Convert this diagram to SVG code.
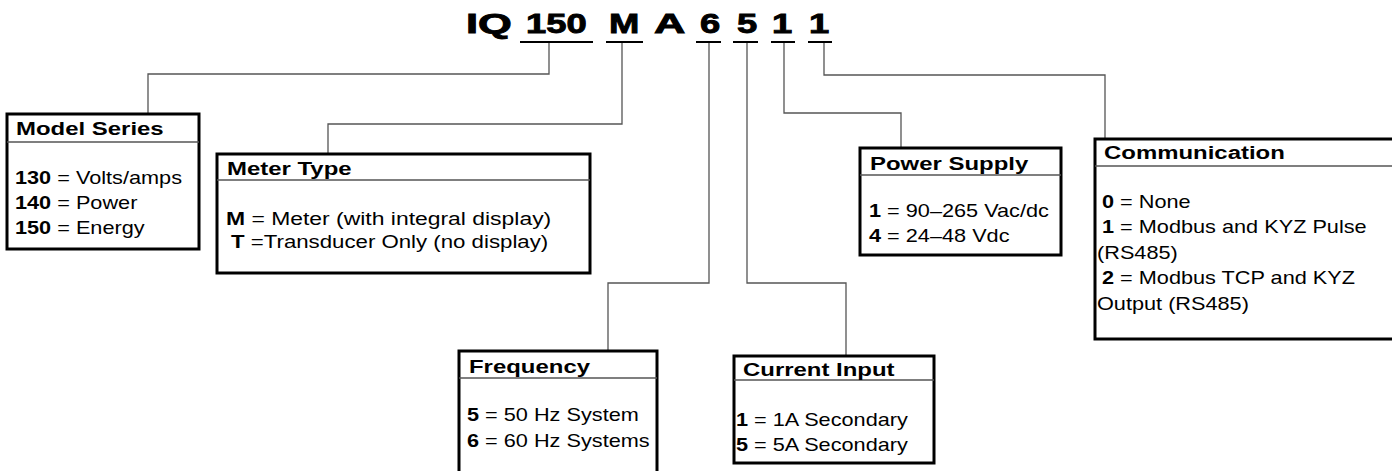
<svg xmlns="http://www.w3.org/2000/svg" width="1392" height="471" viewBox="0 0 1392 471">
<style>
text{font-family:"Liberation Sans",Arial,sans-serif;fill:#000;transform-box:fill-box;transform-origin:left center}
.ttl{font-size:28px;font-weight:bold;stroke:#000;stroke-width:0.9;transform:scaleX(1.3)}
.ttl.w{transform:scaleX(1.55)}
.hd{font-size:19px;font-weight:bold;transform:scaleX(1.26)}
.bd{font-size:17.5px;transform:scaleX(1.24)}
.bd.m1{transform:scaleX(1.31)}
.bd.m2{transform:scaleX(1.27)}
.bd tspan.k{font-weight:bold}
.box{fill:#fff;stroke:#000;stroke-width:3}
.sep{stroke:#555;stroke-width:1.5}
.con{fill:none;stroke:#555;stroke-width:1.3}
.ul{stroke:#000;stroke-width:2}
</style>
<g id="connectors">
<path class="con" d="M549,43 V74 H148 V114"/>
<path class="con" d="M622,43 V124 H328 V154"/>
<path class="con" d="M709,43 V283 H608 V351"/>
<path class="con" d="M747,43 V283 H846 V356"/>
<path class="con" d="M784,43 V113 H901 V148"/>
<path class="con" d="M824,43 V75 H1105 V139"/>
</g>
<g id="title">
<text class="ttl w" x="466" y="33">IQ</text>
<text class="ttl" x="526" y="33">150</text>
<text class="ttl" x="609" y="33">M</text>
<text class="ttl w" x="654" y="33">A</text>
<text class="ttl" x="700" y="33">6</text>
<text class="ttl" x="737" y="33">5</text>
<text class="ttl" x="772" y="33">1</text>
<text class="ttl" x="809" y="33">1</text>
<line class="ul" x1="520" y1="42" x2="593" y2="42"/>
<line class="ul" x1="606" y1="42" x2="643" y2="42"/>
<line class="ul" x1="696" y1="42" x2="721" y2="42"/>
<line class="ul" x1="733" y1="42" x2="758" y2="42"/>
<line class="ul" x1="771" y1="42" x2="795" y2="42"/>
<line class="ul" x1="808" y1="42" x2="832" y2="42"/>
</g>
<g id="model-series">
<rect class="box" x="7" y="114" width="192" height="135"/>
<line class="sep" x1="7" y1="142" x2="199" y2="142"/>
<text class="hd" x="16" y="135">Model Series</text>
<text class="bd" x="15" y="184"><tspan class="k">130</tspan> = Volts/amps</text>
<text class="bd" x="15" y="209"><tspan class="k">140</tspan> = Power</text>
<text class="bd" x="15" y="234"><tspan class="k">150</tspan> = Energy</text>
</g>
<g id="meter-type">
<rect class="box" x="217" y="154" width="373" height="119"/>
<line class="sep" x1="217" y1="180" x2="590" y2="180"/>
<text class="hd" x="227" y="175">Meter Type</text>
<text class="bd m1" x="226" y="225"><tspan class="k">M</tspan> = Meter (with integral display)</text>
<text class="bd m2" x="231" y="248"><tspan class="k">T</tspan>  =Transducer Only (no display)</text>
</g>
<g id="frequency">
<rect class="box" x="459" y="351" width="198" height="135"/>
<line class="sep" x1="459" y1="378" x2="657" y2="378"/>
<text class="hd" x="469" y="373">Frequency</text>
<text class="bd" x="467" y="421"><tspan class="k">5</tspan> = 50 Hz System</text>
<text class="bd" x="467" y="447"><tspan class="k">6</tspan> = 60 Hz Systems</text>
</g>
<g id="current-input">
<rect class="box" x="734" y="356" width="200" height="107"/>
<line class="sep" x1="734" y1="380" x2="934" y2="380"/>
<text class="hd" x="743" y="376">Current Input</text>
<text class="bd" x="736" y="426"><tspan class="k">1</tspan> = 1A Secondary</text>
<text class="bd" x="736" y="451"><tspan class="k">5</tspan> = 5A Secondary</text>
</g>
<g id="power-supply">
<rect class="box" x="860" y="148" width="201" height="107"/>
<line class="sep" x1="860" y1="175" x2="1061" y2="175"/>
<text class="hd" x="870" y="170">Power Supply</text>
<text class="bd" x="869" y="217"><tspan class="k">1</tspan> = 90–265 Vac/dc</text>
<text class="bd" x="869" y="242"><tspan class="k">4</tspan> = 24–48 Vdc</text>
</g>
<g id="communication">
<rect class="box" x="1095" y="139" width="310" height="200"/>
<line class="sep" x1="1095" y1="166" x2="1392" y2="166"/>
<text class="hd" x="1104" y="159">Communication</text>
<text class="bd" x="1102" y="208"><tspan class="k">0</tspan> = None</text>
<text class="bd" x="1102" y="233"><tspan class="k">1</tspan> = Modbus and KYZ Pulse</text>
<text class="bd" x="1097" y="259">(RS485)</text>
<text class="bd" x="1102" y="284"><tspan class="k">2</tspan> = Modbus TCP and KYZ</text>
<text class="bd" x="1097" y="310">Output (RS485)</text>
</g>
</svg>
